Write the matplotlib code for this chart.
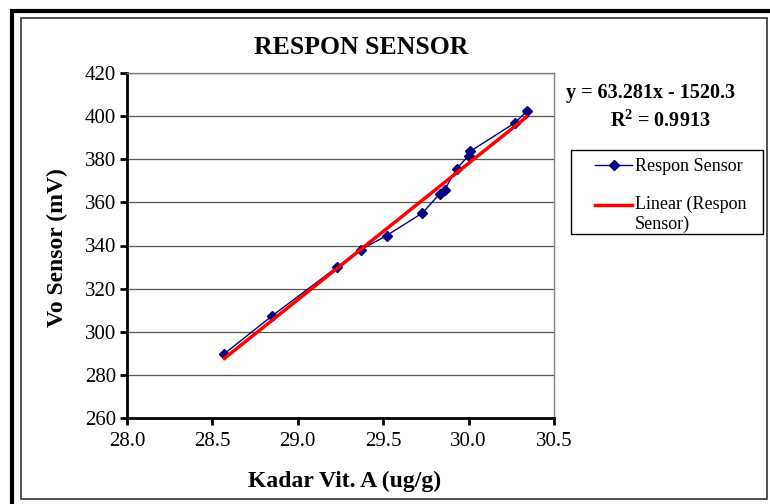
import matplotlib
matplotlib.use("Agg")
import matplotlib.pyplot as plt
from matplotlib.patches import Rectangle
from matplotlib.legend_handler import HandlerLine2D
import numpy as np

plt.rcParams['font.family'] = ['Liberation Serif', 'DejaVu Serif']
plt.rcParams['mathtext.fontset'] = 'custom'
plt.rcParams['mathtext.rm'] = 'Liberation Serif'
plt.rcParams['mathtext.bf'] = 'Liberation Serif:bold'

# Data
kadar_vit_a = [28.57, 28.85, 29.23, 29.37, 29.52, 29.73, 29.83, 29.86, 29.93, 30.00, 30.01, 30.27, 30.34]
vo_sensor = [289.8, 307.4, 330.0, 338.1, 344.6, 355.1, 363.9, 365.9, 375.6, 381.7, 383.7, 396.8, 402.2]
slope = 63.281
intercept = -1520.3
r_squared = 0.9913

title = "RESPON SENSOR"
xlabel = "Kadar Vit. A (ug/g)"
ylabel = "Vo Sensor (mV)"
series_name = "Respon Sensor"
trend_name = "Linear (Respon\nSensor)"
x_ticks = [28.0, 28.5, 29.0, 29.5, 30.0, 30.5]
y_ticks = [260, 280, 300, 320, 340, 360, 380, 400, 420]


class TopLineHandler(HandlerLine2D):
    """Place the legend line beside the first line of a two-line label."""
    def create_artists(self, legend, orig_handle, xdescent, ydescent, width, height,
                       fontsize, trans):
        artists = super().create_artists(legend, orig_handle, xdescent, ydescent, width,
                                         height, fontsize, trans)
        for a in artists:
            a.set_ydata(np.asarray(a.get_ydata()) + 0.5 * fontsize)
        return artists


W, H = 770, 504
fig = plt.figure(figsize=(W / 100, H / 100), dpi=100)

# Borders
fig.patches.append(Rectangle((12.5 / W, -0.02), 1.0, 1 - 10.5 / H + 0.02, transform=fig.transFigure,
                             fill=False, edgecolor='black', linewidth=3, zorder=0))
fig.patches.append(Rectangle((20.5 / W, 1 - 499 / H), (767 - 20.5) / W, (499 - 17.5) / H,
                             transform=fig.transFigure, fill=False, edgecolor='#333333',
                             linewidth=1.2, zorder=0))

ax = fig.add_axes([127 / W, 1 - 418 / H, (554 - 127) / W, (418 - 73) / H])

ax.plot(kadar_vit_a, vo_sensor, color='#000080', linewidth=1.0, marker='D', markersize=5,
        markerfacecolor='#000080', markeredgecolor='#000080', label=series_name, zorder=3)
xs = np.array([min(kadar_vit_a), max(kadar_vit_a)])
trend_line, = ax.plot(xs, slope * xs + intercept, color='#ff0000', linewidth=2.5,
                      label=trend_name, zorder=4)

ax.set_xlim(28.0, 30.5)
ax.set_ylim(260, 420)
ax.set_xticks(x_ticks)
ax.set_xticklabels([f"{v:.1f}" for v in x_ticks])
ax.set_yticks(y_ticks)
ax.set_yticklabels([str(v) for v in y_ticks])
ax.grid(axis='y', color='#555555', linewidth=0.9)
ax.set_axisbelow(True)

for s in ['left', 'bottom']:
    ax.spines[s].set_linewidth(2.0)
    ax.spines[s].set_color('black')
for s in ['top', 'right']:
    ax.spines[s].set_linewidth(1.0)
    ax.spines[s].set_color('#808080')

ax.tick_params(axis='both', direction='out', length=5, width=2, labelsize=15, colors='black')
ax.tick_params(axis='x', pad=5)
ax.tick_params(axis='y', pad=3)

fig.text(345 / W, 1 - 481 / H, xlabel, fontsize=17, fontweight='bold', ha='center', va='center')
fig.text(57 / W, 1 - 248 / H, ylabel, fontsize=17, fontweight='bold', ha='center', va='center',
         rotation=90)
fig.text(361 / W, 1 - 47 / H, title, fontsize=18.5, fontweight='bold', ha='center', va='center')

fig.text(651 / W, 1 - 93 / H, f"y = {slope}x - {abs(intercept)}", fontsize=14.5,
         fontweight='bold', ha='center', va='center')
fig.text(660 / W, 1 - 121 / H, r"R$^\mathbf{2}$" + f" = {r_squared}", fontsize=14.5,
         fontweight='bold', ha='center', va='center')

# Legend box and entries
fig.patches.append(Rectangle((571 / W, 1 - 234 / H), (763 - 571) / W, (234 - 150) / H,
                             transform=fig.transFigure, fill=True, facecolor='white',
                             edgecolor='black', linewidth=1.0, zorder=1))
leg = fig.legend(loc='upper left', bbox_to_anchor=(590 / W, 1 - 153 / H), fontsize=13,
                 frameon=False, handlelength=2.05, borderpad=0.3, labelspacing=1.1,
                 handletextpad=0.15, borderaxespad=0,
                 handler_map={trend_line: TopLineHandler()})
leg.set_zorder(2)

fig.savefig("out.png", dpi=100)
